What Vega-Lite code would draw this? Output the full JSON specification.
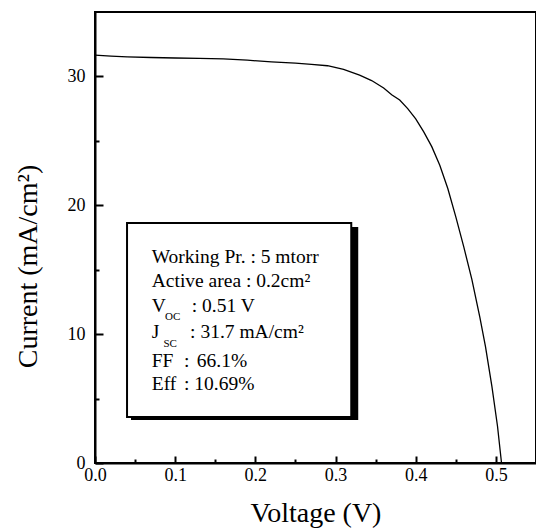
{
  "$schema": "https://vega.github.io/schema/vega-lite/v6.json",
  "width": 441,
  "height": 451,
  "autosize": {"type": "none"},
  "padding": {"left": 95, "top": 12, "right": 0, "bottom": 68},
  "background": "white",
  "config": {
    "font": "Liberation Serif",
    "view": {"stroke": "black", "strokeWidth": 2},
    "axis": {
      "grid": false,
      "domainColor": "black",
      "domainWidth": 2,
      "tickColor": "black",
      "tickWidth": 2,
      "labelColor": "black",
      "labelFont": "Liberation Serif",
      "labelFontSize": 18,
      "titleColor": "black",
      "titleFont": "Liberation Serif",
      "titleFontSize": 28,
      "titleFontWeight": "normal"
    }
  },
  "resolve": {"axis": {"x": "independent", "y": "independent"}},
  "layer": [
    {
      "data": {"values": [
        {"v": 0.0, "j": 31.66},
        {"v": 0.02, "j": 31.58},
        {"v": 0.04, "j": 31.52},
        {"v": 0.07, "j": 31.47},
        {"v": 0.10, "j": 31.43},
        {"v": 0.13, "j": 31.40},
        {"v": 0.16, "j": 31.37},
        {"v": 0.19, "j": 31.26},
        {"v": 0.22, "j": 31.13},
        {"v": 0.25, "j": 31.03},
        {"v": 0.27, "j": 30.94},
        {"v": 0.29, "j": 30.83},
        {"v": 0.31, "j": 30.55},
        {"v": 0.33, "j": 30.10},
        {"v": 0.345, "j": 29.68},
        {"v": 0.36, "j": 29.10},
        {"v": 0.37, "j": 28.58},
        {"v": 0.38, "j": 28.17},
        {"v": 0.39, "j": 27.50},
        {"v": 0.40, "j": 26.70},
        {"v": 0.41, "j": 25.70},
        {"v": 0.42, "j": 24.55},
        {"v": 0.43, "j": 23.10},
        {"v": 0.44, "j": 21.30},
        {"v": 0.45, "j": 19.10},
        {"v": 0.46, "j": 16.75},
        {"v": 0.47, "j": 14.25},
        {"v": 0.48, "j": 11.30},
        {"v": 0.487, "j": 9.03},
        {"v": 0.495, "j": 5.95},
        {"v": 0.502, "j": 2.85},
        {"v": 0.507, "j": 0.0}
      ]},
      "mark": {"type": "line", "color": "black", "strokeWidth": 1.3},
      "encoding": {
        "x": {
          "field": "v", "type": "quantitative", "title": "Voltage (V)",
          "scale": {"domain": [0, 0.55], "nice": false, "zero": false},
          "axis": {
            "orient": "bottom",
            "values": [0, 0.1, 0.2, 0.3, 0.4, 0.5],
            "format": ".1f",
            "tickSize": -7,
            "labelPadding": 10,
            "labelFlush": false,
            "titleBaseline": "alphabetic",
            "titleY": 58
          }
        },
        "y": {
          "field": "j", "type": "quantitative", "title": "Current (mA/cm²)",
          "scale": {"domain": [0, 35], "nice": false, "zero": false},
          "axis": {
            "orient": "left",
            "values": [0, 10, 20, 30],
            "format": "d",
            "tickSize": -8,
            "labelPadding": 18,
            "labelFlush": false,
            "titleAngle": -90,
            "titleBaseline": "alphabetic",
            "titleAlign": "center",
            "titleX": -58.5,
            "titleY": 254
          }
        }
      }
    },
    {
      "data": {"values": [{}]},
      "mark": {"type": "rect", "color": "black"},
      "encoding": {
        "x": {"datum": 0.0449, "type": "quantitative",
          "axis": {"orient": "top", "offset": -451, "values": [0.05, 0.15, 0.25, 0.35, 0.45], "tickSize": 4, "labels": false, "domain": false, "title": null}},
        "x2": {"datum": 0.3283},
        "y": {"datum": 18.31, "type": "quantitative",
          "axis": {"orient": "right", "offset": -441, "values": [5, 15, 25], "tickSize": 4, "labels": false, "domain": false, "title": null}},
        "y2": {"datum": 3.34}
      }
    },
    {
      "data": {"values": [{}]},
      "mark": {"type": "rect", "fill": "white", "stroke": "black", "strokeWidth": 2},
      "encoding": {
        "x": {"datum": 0.03995, "type": "quantitative", "axis": null},
        "x2": {"datum": 0.3196},
        "y": {"datum": 18.62, "type": "quantitative", "axis": null},
        "y2": {"datum": 3.57}
      }
    },
    {
      "data": {"values": [
        {"v": 0.0708, "j": 15.54, "t": "Working Pr. : 5 mtorr"},
        {"v": 0.0708, "j": 13.68, "t": "Active area : 0.2cm²"},
        {"v": 0.0708, "j": 11.74, "t": "V"},
        {"v": 0.1207, "j": 11.74, "t": ": 0.51 V"},
        {"v": 0.0708, "j": 9.68, "t": "J"},
        {"v": 0.1186, "j": 9.68, "t": ": 31.7 mA/cm²"},
        {"v": 0.0708, "j": 7.47, "t": "FF"},
        {"v": 0.1110, "j": 7.47, "t": ":"},
        {"v": 0.1270, "j": 7.47, "t": "66.1%"},
        {"v": 0.0708, "j": 5.66, "t": "Eff"},
        {"v": 0.1110, "j": 5.66, "t": ": 10.69%"}
      ]},
      "mark": {"type": "text", "align": "left", "baseline": "alphabetic", "fontSize": 19.5, "font": "Liberation Serif", "color": "black"},
      "encoding": {
        "x": {"field": "v", "type": "quantitative", "axis": null},
        "y": {"field": "j", "type": "quantitative", "axis": null},
        "text": {"field": "t"}
      }
    },
    {
      "data": {"values": [
        {"v": 0.0874, "j": 11.10, "t": "OC"},
        {"v": 0.0853, "j": 9.03, "t": "SC"}
      ]},
      "mark": {"type": "text", "align": "left", "baseline": "alphabetic", "fontSize": 11, "font": "Liberation Serif", "color": "black"},
      "encoding": {
        "x": {"field": "v", "type": "quantitative", "axis": null},
        "y": {"field": "j", "type": "quantitative", "axis": null},
        "text": {"field": "t"}
      }
    }
  ]
}
